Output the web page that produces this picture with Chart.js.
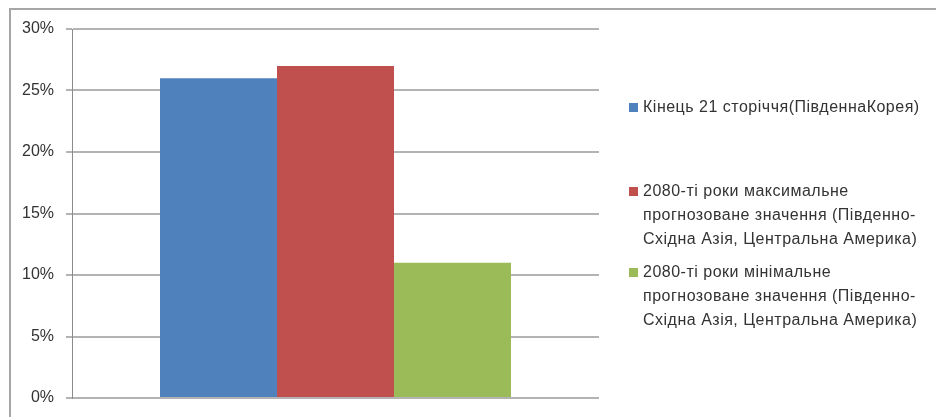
<!DOCTYPE html>
<html>
<head>
<meta charset="utf-8">
<script src="https://cdn.jsdelivr.net/npm/chart.js@4/dist/chart.umd.min.js"></script>
<style>
  html, body { margin: 0; padding: 0; background: #fff; }
  #wrap { position: relative; width: 936px; height: 417px; overflow: hidden; }
  #frame { position: absolute; left: 9px; top: 8px; width: 940px; height: 420px;
           border-top: 2px solid #a6a6a6; border-left: 2px solid #a6a6a6; box-sizing: border-box; }
  #c { position: absolute; left: 0; top: 0; }
  #legend { position: absolute; left: 629px; top: 0; width: 307px;
            font-family: "Liberation Sans", Arial, sans-serif; font-size: 16px; letter-spacing: 0.5px; color: #333; }
  .item { position: absolute; left: 0; display: flex; align-items: flex-start; line-height: 24px; width: 307px; white-space: nowrap; }
  .box { width: 9px; height: 9px; margin-top: 8px; margin-right: 5px; flex: none; }
</style>
</head>
<body>
<div id="wrap">
  <div id="frame"></div>
  <canvas id="c" width="936" height="417"></canvas>
  <div id="legend"></div>
</div>
<script>
const categories = [''];
const seriesNames = [
  ['Кінець 21 сторіччя(ПівденнаКорея)'],
  ['2080-ті роки максимальне', 'прогнозоване значення (Південно-', 'Східна Азія, Центральна Америка)'],
  ['2080-ті роки мінімальне', 'прогнозоване значення (Південно-', 'Східна Азія, Центральна Америка)']
];
const seriesValues = [[26], [27], [11]];
const yTicks = [0, 5, 10, 15, 20, 25, 30];
const colors = ['#4F81BD', '#C0504D', '#9BBB59'];
const legendTops = [95, 179, 260];

const htmlLegend = {
  id: 'htmlLegend',
  afterUpdate(chart) {
    const el = document.getElementById('legend');
    el.innerHTML = '';
    chart.data.datasets.forEach((ds, i) => {
      const item = document.createElement('div');
      item.className = 'item';
      item.style.top = legendTops[i] + 'px';
      const box = document.createElement('span');
      box.className = 'box';
      box.style.background = ds.backgroundColor;
      const txt = document.createElement('div');
      (Array.isArray(ds.label) ? ds.label : [ds.label]).forEach(line => {
        const d = document.createElement('div');
        d.textContent = line;
        txt.appendChild(d);
      });
      item.appendChild(box);
      item.appendChild(txt);
      el.appendChild(item);
    });
  }
};

new Chart(document.getElementById('c'), {
  type: 'bar',
  data: {
    labels: categories,
    datasets: seriesNames.map((n, i) => ({
      label: n,
      data: seriesValues[i],
      backgroundColor: colors[i],
      borderWidth: 0,
      categoryPercentage: 0.666,
      barPercentage: 1
    }))
  },
  options: {
    responsive: false,
    animation: false,
    devicePixelRatio: 1,
    layout: { padding: { left: 0, right: 337, top: 29, bottom: 19 } },
    plugins: { legend: { display: false }, tooltip: { enabled: false } },
    scales: {
      x: { display: false, grid: { display: false } },
      y: {
        min: 0, max: 30,
        afterBuildTicks(scale) { scale.ticks = yTicks.map(v => ({ value: v })); },
        afterFit(scale) { scale.width = 72; scale.paddingTop = 0; scale.paddingBottom = 0; },
        ticks: {
          padding: 12,
          color: '#333',
          font: { family: '"Liberation Sans", Arial, sans-serif', size: 16 },
          callback: v => v + '%'
        },
        grid: { color: '#b3b3b3', lineWidth: 2, tickLength: 6, drawTicks: true },
        border: { color: '#8c8c8c', width: 1 }
      }
    }
  },
  plugins: [htmlLegend]
});
</script>
</body>
</html>
